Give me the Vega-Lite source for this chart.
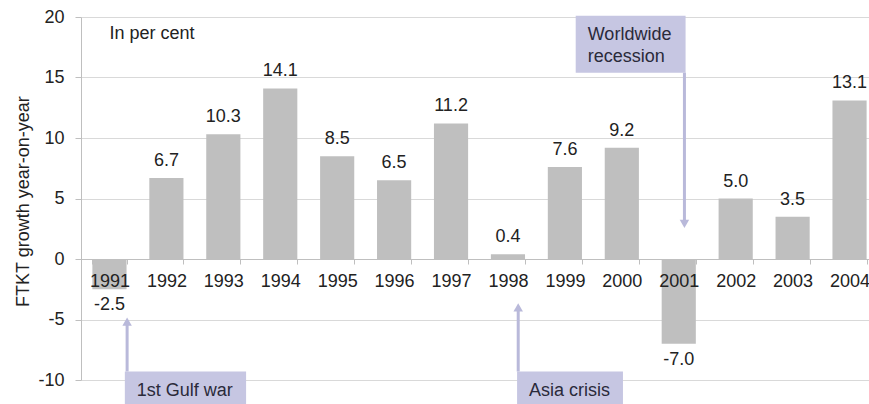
{
  "$schema": "https://vega.github.io/schema/vega-lite/v6.json",
  "width": 797,
  "height": 363,
  "autosize": {"type": "none"},
  "padding": {"left": 81, "top": 17, "right": 0, "bottom": 24},
  "config": {
    "font": "Liberation Sans",
    "view": {"stroke": null},
    "text": {"fontSize": 18, "color": "#222222"}
  },
  "layer": [
    {
      "data": {
        "values": [
          {"year": "1991", "growth": -2.5},
          {"year": "1992", "growth": 6.7},
          {"year": "1993", "growth": 10.3},
          {"year": "1994", "growth": 14.1},
          {"year": "1995", "growth": 8.5},
          {"year": "1996", "growth": 6.5},
          {"year": "1997", "growth": 11.2},
          {"year": "1998", "growth": 0.4},
          {"year": "1999", "growth": 7.6},
          {"year": "2000", "growth": 9.2},
          {"year": "2001", "growth": -7.0},
          {"year": "2002", "growth": 5.0},
          {"year": "2003", "growth": 3.5},
          {"year": "2004", "growth": 13.1}
        ]
      },
      "transform": [
        {"calculate": "replace(format(datum.growth, '.1f'), '\u2212', '-')", "as": "growthLabel"}
      ],
      "encoding": {
        "x": {
          "field": "year",
          "type": "nominal",
          "sort": null,
          "scale": {"paddingInner": 0.4, "paddingOuter": 0.2},
          "axis": {
            "title": null,
            "labelAngle": 0,
            "offset": -121,
            "tickBand": "extent",
            "tickSize": 5,
            "zindex": 1,
            "labelPadding": 8,
            "labelFontSize": 18,
            "labelColor": "#222222",
            "domainColor": "#bfbfbf",
            "tickColor": "#bfbfbf"
          }
        },
        "y": {
          "field": "growth",
          "type": "quantitative",
          "scale": {"domain": [-10, 20], "nice": false, "zero": false},
          "axis": {
            "values": [-10, -5, 0, 5, 10, 15, 20],
            "labelExpr": "replace(datum.label, '\u2212', '-')",
            "grid": true,
            "gridColor": "#d9d9d9",
            "domainColor": "#bfbfbf",
            "tickColor": "#bfbfbf",
            "tickSize": 6,
            "labelFontSize": 18,
            "labelPadding": 11,
            "labelColor": "#222222",
            "title": "FTKT growth year-on-year",
            "titleFontSize": 18,
            "titleFontWeight": "normal",
            "titleColor": "#222222",
            "titleX": -58,
            "titleY": 184,
            "titleBaseline": "middle"
          }
        }
      },
      "layer": [
        {"mark": {"type": "bar", "color": "#bfbfbf"}},
        {
          "transform": [{"filter": "datum.growth >= 0"}],
          "mark": {"type": "text", "baseline": "alphabetic", "dy": -12},
          "encoding": {"text": {"field": "growthLabel"}}
        },
        {
          "transform": [{"filter": "datum.growth < 0"}],
          "mark": {"type": "text", "baseline": "alphabetic", "dy": 21},
          "encoding": {"text": {"field": "growthLabel"}}
        }
      ]
    },
    {
      "layer": [
        {
          "data": {
            "values": [
              {"event": "1st Gulf war", "x0": 1991.27, "x1": 1993.4, "y0": -9.3, "y1": -12.5, "arrowX": 1991.31, "headY": -5.17, "labelY": -10.9},
              {"event": "Asia crisis", "x0": 1998.16, "x1": 2000.02, "y0": -9.3, "y1": -12.5, "arrowX": 1998.18, "headY": -4.0, "labelY": -10.9},
              {"event": "Worldwide\nrecession", "x0": 1999.19, "x1": 2001.12, "y0": 15.4, "y1": 20.1, "arrowX": 2001.1, "headY": 2.9, "labelY": 18.55}
            ]
          },
          "layer": [
            {
              "mark": {"type": "rule", "color": "#b9b9da", "strokeWidth": 3},
              "encoding": {
                "x": {"field": "arrowX", "type": "quantitative", "scale": {"domain": [1990.5, 2004.5], "nice": false, "zero": false}, "axis": null},
                "y": {"field": "y0", "type": "quantitative", "scale": {"domain": [-10, 20], "nice": false, "zero": false}},
                "y2": {"field": "headY"}
              }
            },
            {
              "mark": {"type": "point", "filled": true, "opacity": 1, "color": "#b9b9da", "size": 90},
              "encoding": {
                "x": {"field": "arrowX", "type": "quantitative"},
                "y": {"field": "headY", "type": "quantitative"},
                "shape": {
                  "condition": {"test": "datum.headY > datum.y0", "value": "triangle-up"},
                  "value": "triangle-down"
                }
              }
            },
            {
              "mark": {"type": "rect", "color": "#c6c6e2"},
              "encoding": {
                "x": {"field": "x0", "type": "quantitative"},
                "x2": {"field": "x1"},
                "y": {"field": "y0", "type": "quantitative"},
                "y2": {"field": "y1"}
              }
            },
            {
              "mark": {"type": "text", "align": "left", "baseline": "middle", "dx": 12, "lineBreak": "\n", "lineHeight": 22, "color": "#2a2a3a"},
              "encoding": {
                "x": {"field": "x0", "type": "quantitative"},
                "y": {"field": "labelY", "type": "quantitative"},
                "text": {"field": "event"}
              }
            }
          ]
        },
        {
          "data": {"values": [{"note": "In per cent", "x": 1991.0, "y": 18.6}]},
          "mark": {"type": "text", "align": "left", "baseline": "middle", "fontSize": 18},
          "encoding": {
            "x": {"field": "x", "type": "quantitative"},
            "y": {"field": "y", "type": "quantitative"},
            "text": {"field": "note"}
          }
        }
      ]
    }
  ],
  "resolve": {"scale": {"x": "independent"}}
}
